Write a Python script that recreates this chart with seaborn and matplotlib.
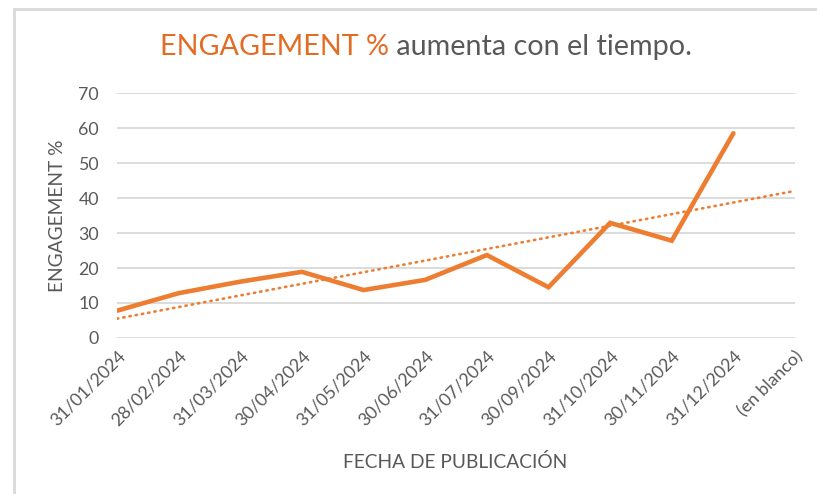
import numpy as np
import pandas as pd
import matplotlib
matplotlib.use("Agg")
import matplotlib.pyplot as plt
from matplotlib.lines import Line2D
import seaborn as sns

# ==========================================================
# DATA
# ==========================================================

fechas = [
    "31/01/2024", "28/02/2024", "31/03/2024", "30/04/2024",
    "31/05/2024", "30/06/2024", "31/07/2024", "30/09/2024",
    "31/10/2024", "30/11/2024", "31/12/2024", "(en blanco)",
]
engagement = [7.8, 12.8, 16.1, 18.9, 13.7, 16.6, 23.7, 14.5, 32.9, 27.8, 58.5]

ORANGE = "#ED7D31"
TITLE_ORANGE = "#E36C25"
GREY = "#595959"
GRID = "#D9D9D9"

df = pd.DataFrame({"pos": np.arange(len(engagement)), "engagement": engagement})

# linear trendline (Excel style) extended over every category
slope, intercept = np.polyfit(df["pos"], df["engagement"], 1)
trend_x = np.arange(len(fechas))
trend = pd.DataFrame({"pos": trend_x, "trend": intercept + slope * trend_x})

# ==========================================================
# PLOT
# ==========================================================

sns.set_style("white")
plt.rcParams["font.family"] = ["Lato", "DejaVu Sans"]

fig = plt.figure(figsize=(8.17, 4.94), dpi=100)
ax = fig.add_axes([0.1432, 0.3158, 0.9731 - 0.1432, 0.8117 - 0.3158])

sns.lineplot(data=trend, x="pos", y="trend", ax=ax, color=ORANGE,
             linewidth=1.9, linestyle=(0, (0.5, 1.9)), dash_capstyle="round")
sns.lineplot(data=df, x="pos", y="engagement", ax=ax, color=ORANGE,
             linewidth=3.3, solid_capstyle="round", solid_joinstyle="miter")

ax.set_xlim(0, len(fechas) - 1)
ax.set_ylim(0, 70)
ax.set_yticks(range(0, 71, 10))
ax.set_xticks(range(len(fechas)))
ax.set_xticklabels(fechas, rotation=45, ha="right", rotation_mode="anchor")
ax.tick_params(axis="both", length=0, colors=GREY, labelsize=12.8)
ax.tick_params(axis="x", pad=7)
ax.tick_params(axis="y", pad=13)

ax.yaxis.grid(True, color=GRID, linewidth=1.3)
ax.set_axisbelow(True)
for s in ax.spines.values():
    s.set_visible(False)

ax.set_xlabel("")
ax.set_ylabel("")
fig.text(0.0698, 0.5637, "ENGAGEMENT %", rotation=90, ha="center", va="center",
         color=GREY, fontsize=13.8)
fig.text(0.557, 0.065, "FECHA DE PUBLICACIÓN", ha="center", va="center",
         color=GREY, fontsize=13.8)

# two-colour title
t1 = fig.text(0.196, 0.905, "ENGAGEMENT %", color=TITLE_ORANGE, fontsize=20.7,
              ha="left", va="center")
ax.annotate(" aumenta con el tiempo.", xy=(1, 0), xycoords=t1, va="bottom",
            ha="left", color=GREY, fontsize=20.7)

# chart frame
fig.add_artist(Line2D([14 / 817, 14 / 817], [0, 1 - 9 / 494], color=GRID, linewidth=2))
fig.add_artist(Line2D([14 / 817, 1], [1 - 9 / 494, 1 - 9 / 494], color=GRID, linewidth=2))

fig.savefig("out.png", dpi=100)
plt.close()
